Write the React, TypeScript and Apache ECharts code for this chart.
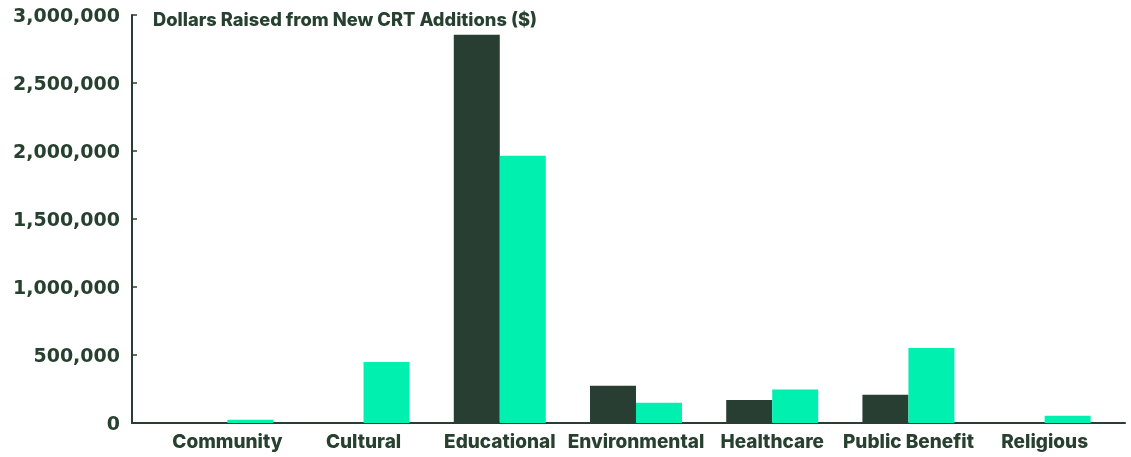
import React, { useEffect, useRef } from "react";
import * as echarts from "echarts";

const categories = [
  "Community",
  "Cultural",
  "Educational",
  "Environmental",
  "Healthcare",
  "Public Benefit",
  "Religious",
];
const seriesDark = [0, 0, 2855000, 274000, 169000, 208000, 0];
const seriesGreen = [24000, 449000, 1965000, 149000, 247000, 551000, 54000];
const yTicks = [0, 500000, 1000000, 1500000, 2000000, 2500000, 3000000];
const title = "Dollars Raised from New CRT Additions ($)";

const DARK = "#283e32";
const GREEN = "#00f0b0";
const TEXT = "#27402f";

export default function App() {
  const ref = useRef<HTMLDivElement>(null);
  useEffect(() => {
    if (!ref.current) return;
    const chart = echarts.init(ref.current, undefined, { renderer: "svg" });
    chart.setOption({
      animation: false,
      title: {
        text: title,
        left: 148,
        top: 5,
        textStyle: {
          fontFamily: "Inter",
          fontWeight: 800,
          fontSize: 18.3,
          color: TEXT,
        },
      },
      grid: { left: 132, right: 6, top: 15, bottom: 34, containLabel: false },
      xAxis: {
        type: "value",
        min: -0.7,
        max: 6.59,
        splitLine: { show: false },
        axisTick: { show: false },
        axisLine: { show: true, lineStyle: { color: DARK, width: 2 } },
        axisLabel: {
          customValues: categories.map((_, i) => i),
          formatter: (v: number) => categories[Math.round(v)] ?? "",
          margin: 9,
          fontFamily: "Inter",
          fontWeight: 800,
          fontSize: 19,
          color: TEXT,
        },
      },
      yAxis: {
        type: "value",
        min: 0,
        max: 3000000,
        interval: 500000,
        splitLine: { show: false },
        axisLine: { show: true, onZero: false, lineStyle: { color: DARK, width: 2 } },
        axisTick: {
          show: true,
          inside: true,
          length: 5,
          lineStyle: { color: DARK, width: 1.5 },
          customValues: yTicks,
        },
        axisLabel: {
          customValues: yTicks,
          formatter: (v: number) => v.toLocaleString("en-US"),
          margin: 12,
          fontFamily: "DejaVu Sans",
          fontWeight: "bold",
          fontSize: 19,
          color: TEXT,
        },
      },
      series: [
        {
          type: "bar",
          data: seriesDark.map((v, i) => [i, v]),
          barWidth: 46,
          barGap: "0%",
          itemStyle: { color: DARK },
        },
        {
          type: "bar",
          data: seriesGreen.map((v, i) => [i, v]),
          barWidth: 46,
          barGap: "0%",
          itemStyle: { color: GREEN },
        },
      ],
    });
    return () => chart.dispose();
  }, []);
  return (
    <div
      ref={ref}
      style={{ position: "fixed", left: 0, top: 0, width: 1131, height: 457 }}
    />
  );
}
